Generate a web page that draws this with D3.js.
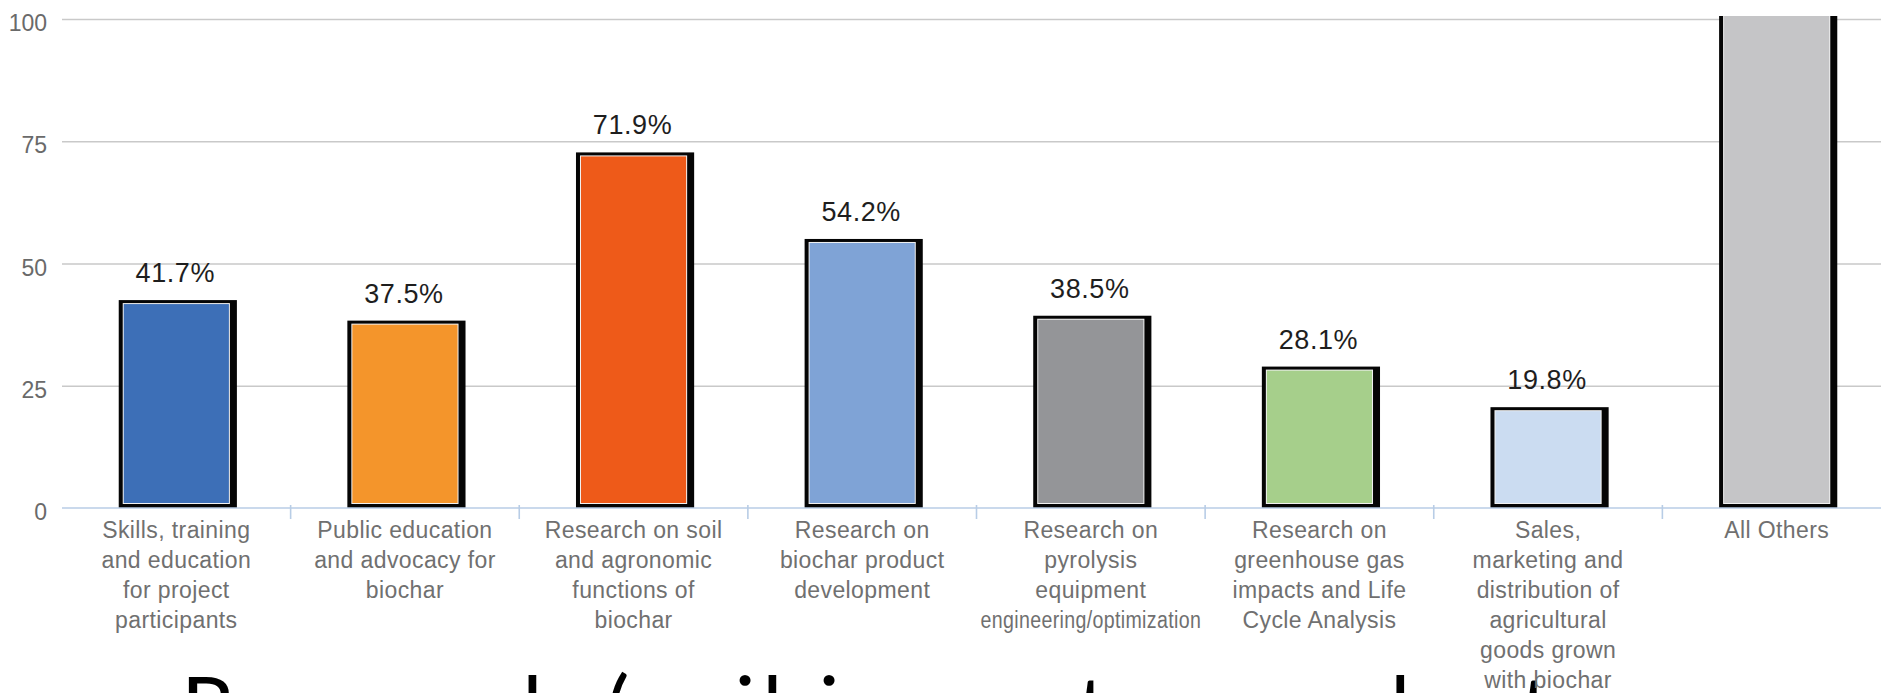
<!DOCTYPE html>
<html>
<head>
<meta charset="utf-8">
<script src="https://cdn.jsdelivr.net/npm/d3@7"></script>
<style>
  html, body { margin: 0; padding: 0; background: #fff; overflow: hidden; }
  svg { display: block; }
</style>
</head>
<body>
<div id="chart"></div>
<script>
// labels are pre-wrapped the way the original chart wraps them
const categories = [
  "Skills, training\nand education\nfor project\nparticipants",
  "Public education\nand advocacy for\nbiochar",
  "Research on soil\nand agronomic\nfunctions of\nbiochar",
  "Research on\nbiochar product\ndevelopment",
  "Research on\npyrolysis\nequipment\nengineering/optimization",
  "Research on\ngreenhouse gas\nimpacts and Life\nCycle Analysis",
  "Sales,\nmarketing and\ndistribution of\nagricultural\ngoods grown\nwith biochar",
  "All Others"
];
const values = [41.7, 37.5, 71.9, 54.2, 38.5, 28.1, 19.8, 104];
const barColors = ["#3d6fb7", "#f4952b", "#ee5a19", "#7fa3d6", "#949598", "#a6cf8b", "#cbdcf1", "#c5c5c7"];
const yTicks = [0, 25, 50, 75, 100];
const footerText = "Research (soil impacts, product";

const width = 1881;
const height = 693;
const plotLeft = 62;
const plotTop = 19;
const baseY = 508;

const data = categories.map((c, i) => ({ cat: c, value: values[i], color: barColors[i] }));

const svg = d3.select("#chart")
  .append("svg")
  .attr("width", width)
  .attr("height", height)
  .style("background", "#fff");

// big heading that is cut off at the bottom of the window (drawn first, labels sit on top)
svg.append("text")
  .attr("x", 181)
  .attr("y", 738)
  .attr("textLength", 1370)
  .attr("lengthAdjust", "spacing")
  .attr("fill", "#000")
  .style("font-family", "Lato, 'Noto Sans', sans-serif")
  .style("font-size", "86px")
  .text(footerText);

// the plot runs a bit past the right edge of the window, like the original
const x = d3.scaleBand()
  .domain(categories)
  .range([plotLeft, 1891])
  .padding(0);

const y = d3.scaleLinear()
  .domain([0, 100])
  .range([baseY, plotTop]);

// gridlines + y labels
const yAxis = svg.append("g")
  .attr("transform", `translate(${plotLeft},0)`)
  .call(d3.axisLeft(y).tickValues(yTicks).tickSize(-(width - plotLeft)).tickPadding(15));

yAxis.select(".domain").remove();
yAxis.selectAll(".tick line")
  .attr("stroke", "#c9c9c9")
  .attr("stroke-width", 1.6);
yAxis.selectAll(".tick text")
  .attr("dy", "0.5em")
  .attr("fill", "#6a6a6a")
  .style("font-family", "'Liberation Sans', Arial, sans-serif")
  .style("font-size", "23px");
yAxis.selectAll(".tick").filter(d => d === 0).select("line").remove();

// bars, clipped at top of plot area
svg.append("clipPath")
  .attr("id", "plot-clip")
  .append("rect")
  .attr("x", 0)
  .attr("y", y(100) - 3)
  .attr("width", width)
  .attr("height", baseY - y(100) + 3);

const fillW = x.bandwidth() * 0.46;

const bars = svg.append("g")
  .attr("clip-path", "url(#plot-clip)")
  .selectAll(".bar")
  .data(data)
  .enter()
  .append("g")
  .attr("class", "bar");

const barX = d => x(d.cat) + x.bandwidth() / 2 - fillW / 2;

// black frame with the heavier right edge
bars.append("rect")
  .attr("x", d => barX(d) - 5)
  .attr("y", d => y(d.value) - 4)
  .attr("width", fillW + 13)
  .attr("height", d => baseY - y(d.value) + 4)
  .attr("fill", "#050505");

// thin white inner line
bars.append("rect")
  .attr("x", d => barX(d) - 1)
  .attr("y", d => y(d.value) - 1)
  .attr("width", fillW + 2)
  .attr("height", d => baseY - 4 - y(d.value) + 1)
  .attr("fill", "#f2f2f2");

bars.append("rect")
  .attr("x", d => barX(d))
  .attr("y", d => y(d.value))
  .attr("width", fillW)
  .attr("height", d => baseY - 5 - y(d.value))
  .attr("fill", d => d.color);

// value labels (the clipped bar has none visible)
svg.selectAll(".val")
  .data(data.filter(d => d.value <= 100))
  .enter()
  .append("text")
  .attr("class", "val")
  .attr("x", d => x(d.cat) + x.bandwidth() / 2 - 1)
  .attr("y", d => y(d.value) - 22)
  .attr("text-anchor", "middle")
  .attr("fill", "#1e1e1e")
  .style("font-family", "'Liberation Sans', Arial, sans-serif")
  .style("font-size", "27px")
  .style("letter-spacing", "0.6px")
  .text(d => d.value.toFixed(1) + "%");

// baseline + ticks between categories
svg.append("line")
  .attr("x1", plotLeft)
  .attr("x2", width)
  .attr("y1", baseY)
  .attr("y2", baseY)
  .attr("stroke", "#b8cde6")
  .attr("stroke-width", 1.6);

svg.selectAll(".xtick")
  .data(categories.slice(1))
  .enter()
  .append("line")
  .attr("class", "xtick")
  .attr("x1", d => x(d))
  .attr("x2", d => x(d))
  .attr("y1", baseY - 3)
  .attr("y2", baseY + 11)
  .attr("stroke", "#b8cde6")
  .attr("stroke-width", 1.6);

// category labels
const catLabels = svg.selectAll(".cat")
  .data(categories)
  .enter()
  .append("text")
  .attr("class", "cat")
  .attr("text-anchor", "middle")
  .attr("fill", "#707070")
  .style("font-family", "'Liberation Sans', Arial, sans-serif")
  .style("font-size", "23px")
  .style("letter-spacing", "0.4px");

catLabels.each(function (d) {
  const t = d3.select(this);
  d.split("\n").forEach((line, i) => {
    const ts = t.append("tspan")
      .attr("x", x(d) + x.bandwidth() / 2)
      .attr("y", 538 + i * 30)
      .text(line);
    const maxW = x.bandwidth() - 8;
    if (ts.node().getComputedTextLength() > maxW) {
      ts.attr("textLength", maxW).attr("lengthAdjust", "spacingAndGlyphs");
    }
  });
});
</script>
</body>
</html>
